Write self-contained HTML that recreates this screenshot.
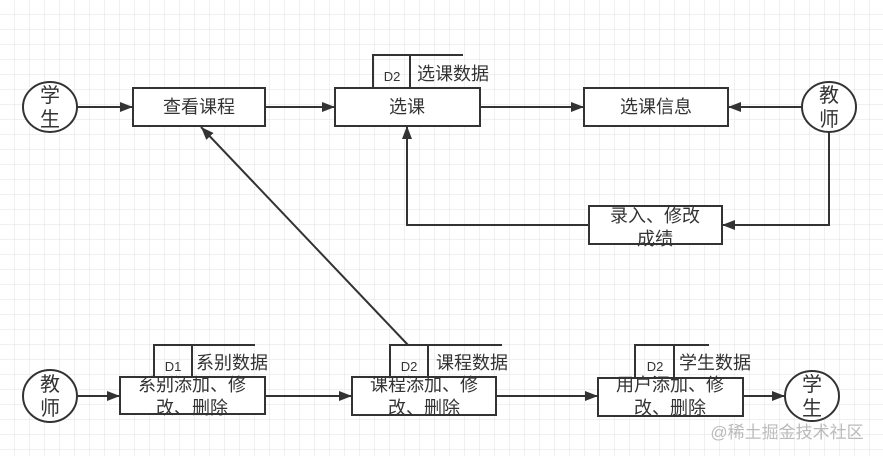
<!DOCTYPE html>
<html><head><meta charset="utf-8"><style>
html,body{margin:0;padding:0;background:#fff;}
svg{display:block;}
text{font-family:"Liberation Sans","Noto Sans CJK SC",sans-serif;fill:#333;}
</style></head><body>
<svg width="883" height="456" viewBox="0 0 883 456" xmlns="http://www.w3.org/2000/svg">
<defs>
<pattern id="g" width="15" height="15" patternUnits="userSpaceOnUse">
<path d="M15 0V15M0 15H15" fill="none" stroke="#e0e0e0" stroke-width="1"/>
</pattern>
<marker id="a" markerWidth="14" markerHeight="12" refX="13" refY="6" orient="auto" markerUnits="userSpaceOnUse">
<path d="M0,1 L13,6 L0,11 Z" fill="#333"/>
</marker>
</defs>
<rect x="0" y="0" width="883" height="456" fill="url(#g)"/>
<g fill="#fff" stroke="#333" stroke-width="2">
<ellipse cx="50" cy="107" rx="27" ry="25"/>
<ellipse cx="829" cy="107" rx="27" ry="25"/>
<ellipse cx="50" cy="396" rx="27" ry="26"/>
<ellipse cx="812" cy="396" rx="27" ry="25"/>
<rect x="133" y="88" width="132" height="38"/>
<rect x="335" y="88" width="145" height="38"/>
<rect x="584" y="88" width="144" height="38"/>
<rect x="589" y="206" width="133" height="38"/>
<rect x="120" y="377" width="145" height="37"/>
<rect x="352" y="377" width="144" height="38"/>
<rect x="598" y="378" width="145" height="38"/>
</g>
<g fill="none" stroke="#333" stroke-width="2">
<path d="M373 88V55H463M410 55V88"/>
<path d="M154 377V345H255M192 345V377"/>
<path d="M390 377V345H502M428 345V377"/>
<path d="M635 378V345H709M674 345V378"/>
<g marker-end="url(#a)">
<path d="M77 107H133"/>
<path d="M265 107H335"/>
<path d="M480 107H584"/>
<path d="M802 107H728"/>
<path d="M829 132V225H722"/>
<path d="M589 225H407V126"/>
<path d="M408 345L201 127"/>
<path d="M77 396H120"/>
<path d="M265 396H352"/>
<path d="M496 396H598"/>
<path d="M743 396H785"/>
</g>
</g>
<g font-size="20" text-anchor="middle">
<text x="50" y="102">学</text><text x="50" y="126">生</text>
<text x="829" y="102">教</text><text x="829" y="126">师</text>
<text x="50" y="391">教</text><text x="50" y="415">师</text>
<text x="812" y="391">学</text><text x="812" y="415">生</text>
</g>
<g font-size="18" text-anchor="middle">
<text x="199" y="113">查看课程</text>
<text x="407" y="113">选课</text>
<text x="656" y="113">选课信息</text>
<text x="655" y="222">录入、修改</text><text x="655" y="245">成绩</text>
<text x="192" y="391">系别添加、修</text><text x="192" y="414">改、删除</text>
<text x="424" y="391">课程添加、修</text><text x="424" y="414">改、删除</text>
<text x="670" y="391">用户添加、修</text><text x="670" y="414">改、删除</text>
<text x="453" y="80">选课数据</text>
<text x="232" y="369">系别数据</text>
<text x="472" y="369">课程数据</text>
<text x="715" y="369">学生数据</text>
</g>
<g font-size="13" text-anchor="middle">
<text x="392" y="81">D2</text>
<text x="173" y="371">D1</text>
<text x="409" y="371">D2</text>
<text x="655" y="371">D2</text>
</g>
<text x="787" y="438" font-size="17" text-anchor="middle" style="fill:#bbb">@稀土掘金技术社区</text>
</svg>
</body></html>
